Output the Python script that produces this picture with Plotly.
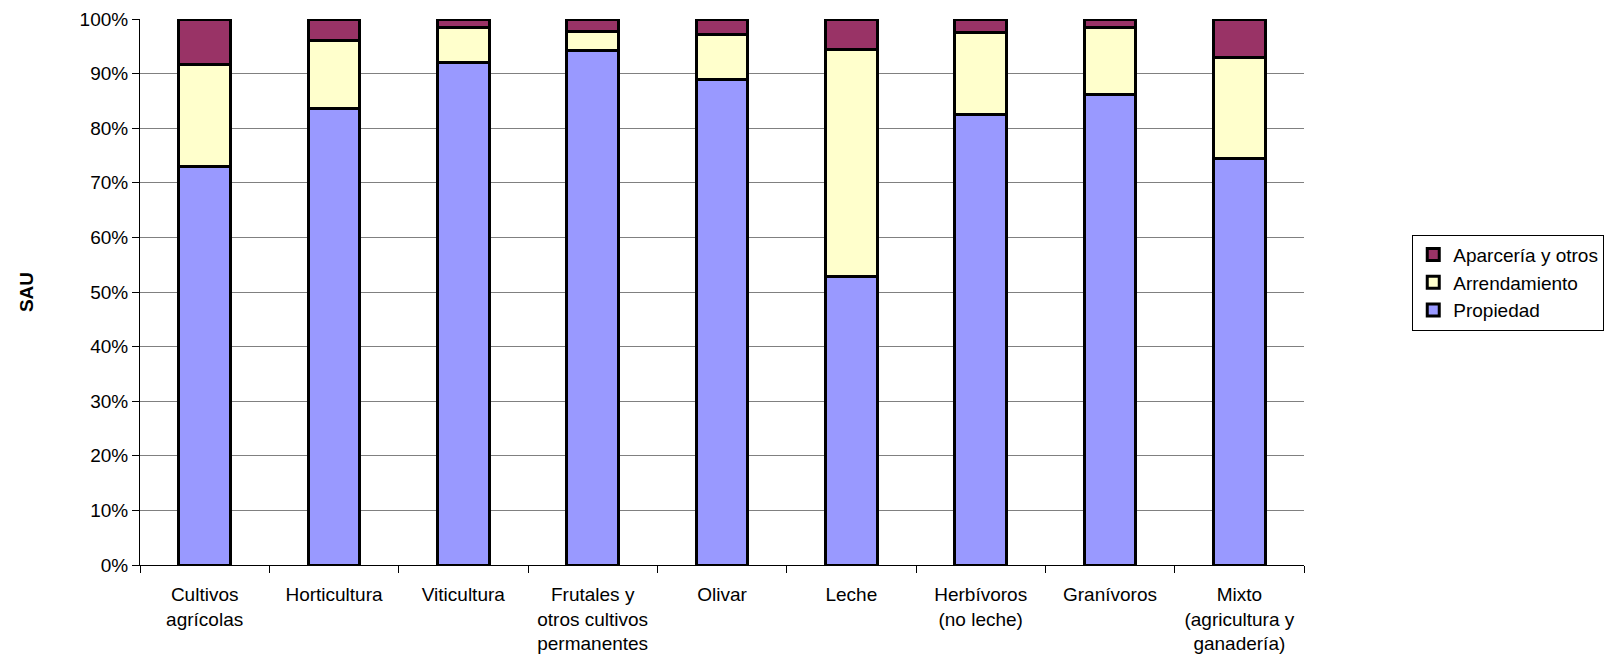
import plotly.graph_objects as go

categories = [
    "Cultivos<br>agrícolas",
    "Horticultura",
    "Viticultura",
    "Frutales y<br>otros cultivos<br>permanentes",
    "Olivar",
    "Leche",
    "Herbívoros<br>(no leche)",
    "Granívoros",
    "Mixto<br>(agricultura y<br>ganadería)",
]

propiedad = [73.0, 83.6, 92.1, 94.2, 89.0, 52.9, 82.5, 86.2, 74.5]
arrendamiento = [18.6, 12.5, 6.4, 3.6, 8.1, 41.6, 15.1, 12.2, 18.5]
aparceria = [8.4, 3.9, 1.5, 2.2, 2.9, 5.5, 2.4, 1.6, 7.0]

y_ticks = [0, 10, 20, 30, 40, 50, 60, 70, 80, 90, 100]
y_tick_labels = [f"{v}%" for v in y_ticks]

series = [
    ("Propiedad", propiedad, "#9999FF"),
    ("Arrendamiento", arrendamiento, "#FFFFCC"),
    ("Aparcería y otros", aparceria, "#993366"),
]

FONT = "Liberation Sans, Arial, sans-serif"

fig = go.Figure()
for name, vals, color in series:
    fig.add_trace(go.Bar(
        x=categories, y=vals, name=name,
        marker=dict(color=color, line=dict(color="black", width=3)),
    ))

fig.update_layout(
    barmode="stack",
    bargap=0.6,
    width=1605, height=652,
    margin=dict(l=132, r=309, t=11, b=95, autoexpand=False),
    paper_bgcolor="white", plot_bgcolor="white",
    font=dict(family=FONT, size=19, color="black"),
    showlegend=True,
    legend=dict(
        traceorder="reversed",
        x=1.093, y=0.605, xanchor="left", yanchor="top",
        bordercolor="black", borderwidth=1,
        font=dict(family=FONT, size=19, color="black"),
        itemwidth=30,
        tracegroupgap=0,
    ),
)

fig.update_xaxes(
    showline=True, linecolor="black", linewidth=1,
    ticks="outside", ticklen=7, tickcolor="black",
    tickson="boundaries",
    ticklabelstandoff=12,
    tickfont=dict(family=FONT, size=19, color="black"),
    showgrid=False,
)
fig.update_yaxes(
    range=[0, 100],
    tickvals=y_ticks, ticktext=y_tick_labels,
    ticklabeloverflow="allow",
    showline=True, linecolor="black", linewidth=1,
    ticks="outside", ticklen=7, tickcolor="black",
    showgrid=True, gridcolor="#808080", gridwidth=1,
    tickfont=dict(family=FONT, size=19, color="black"),
    title=dict(text="<b>SAU</b>", font=dict(family=FONT, size=19, color="black"), standoff=40),
    zeroline=False,
)

fig.write_html("out.html")
